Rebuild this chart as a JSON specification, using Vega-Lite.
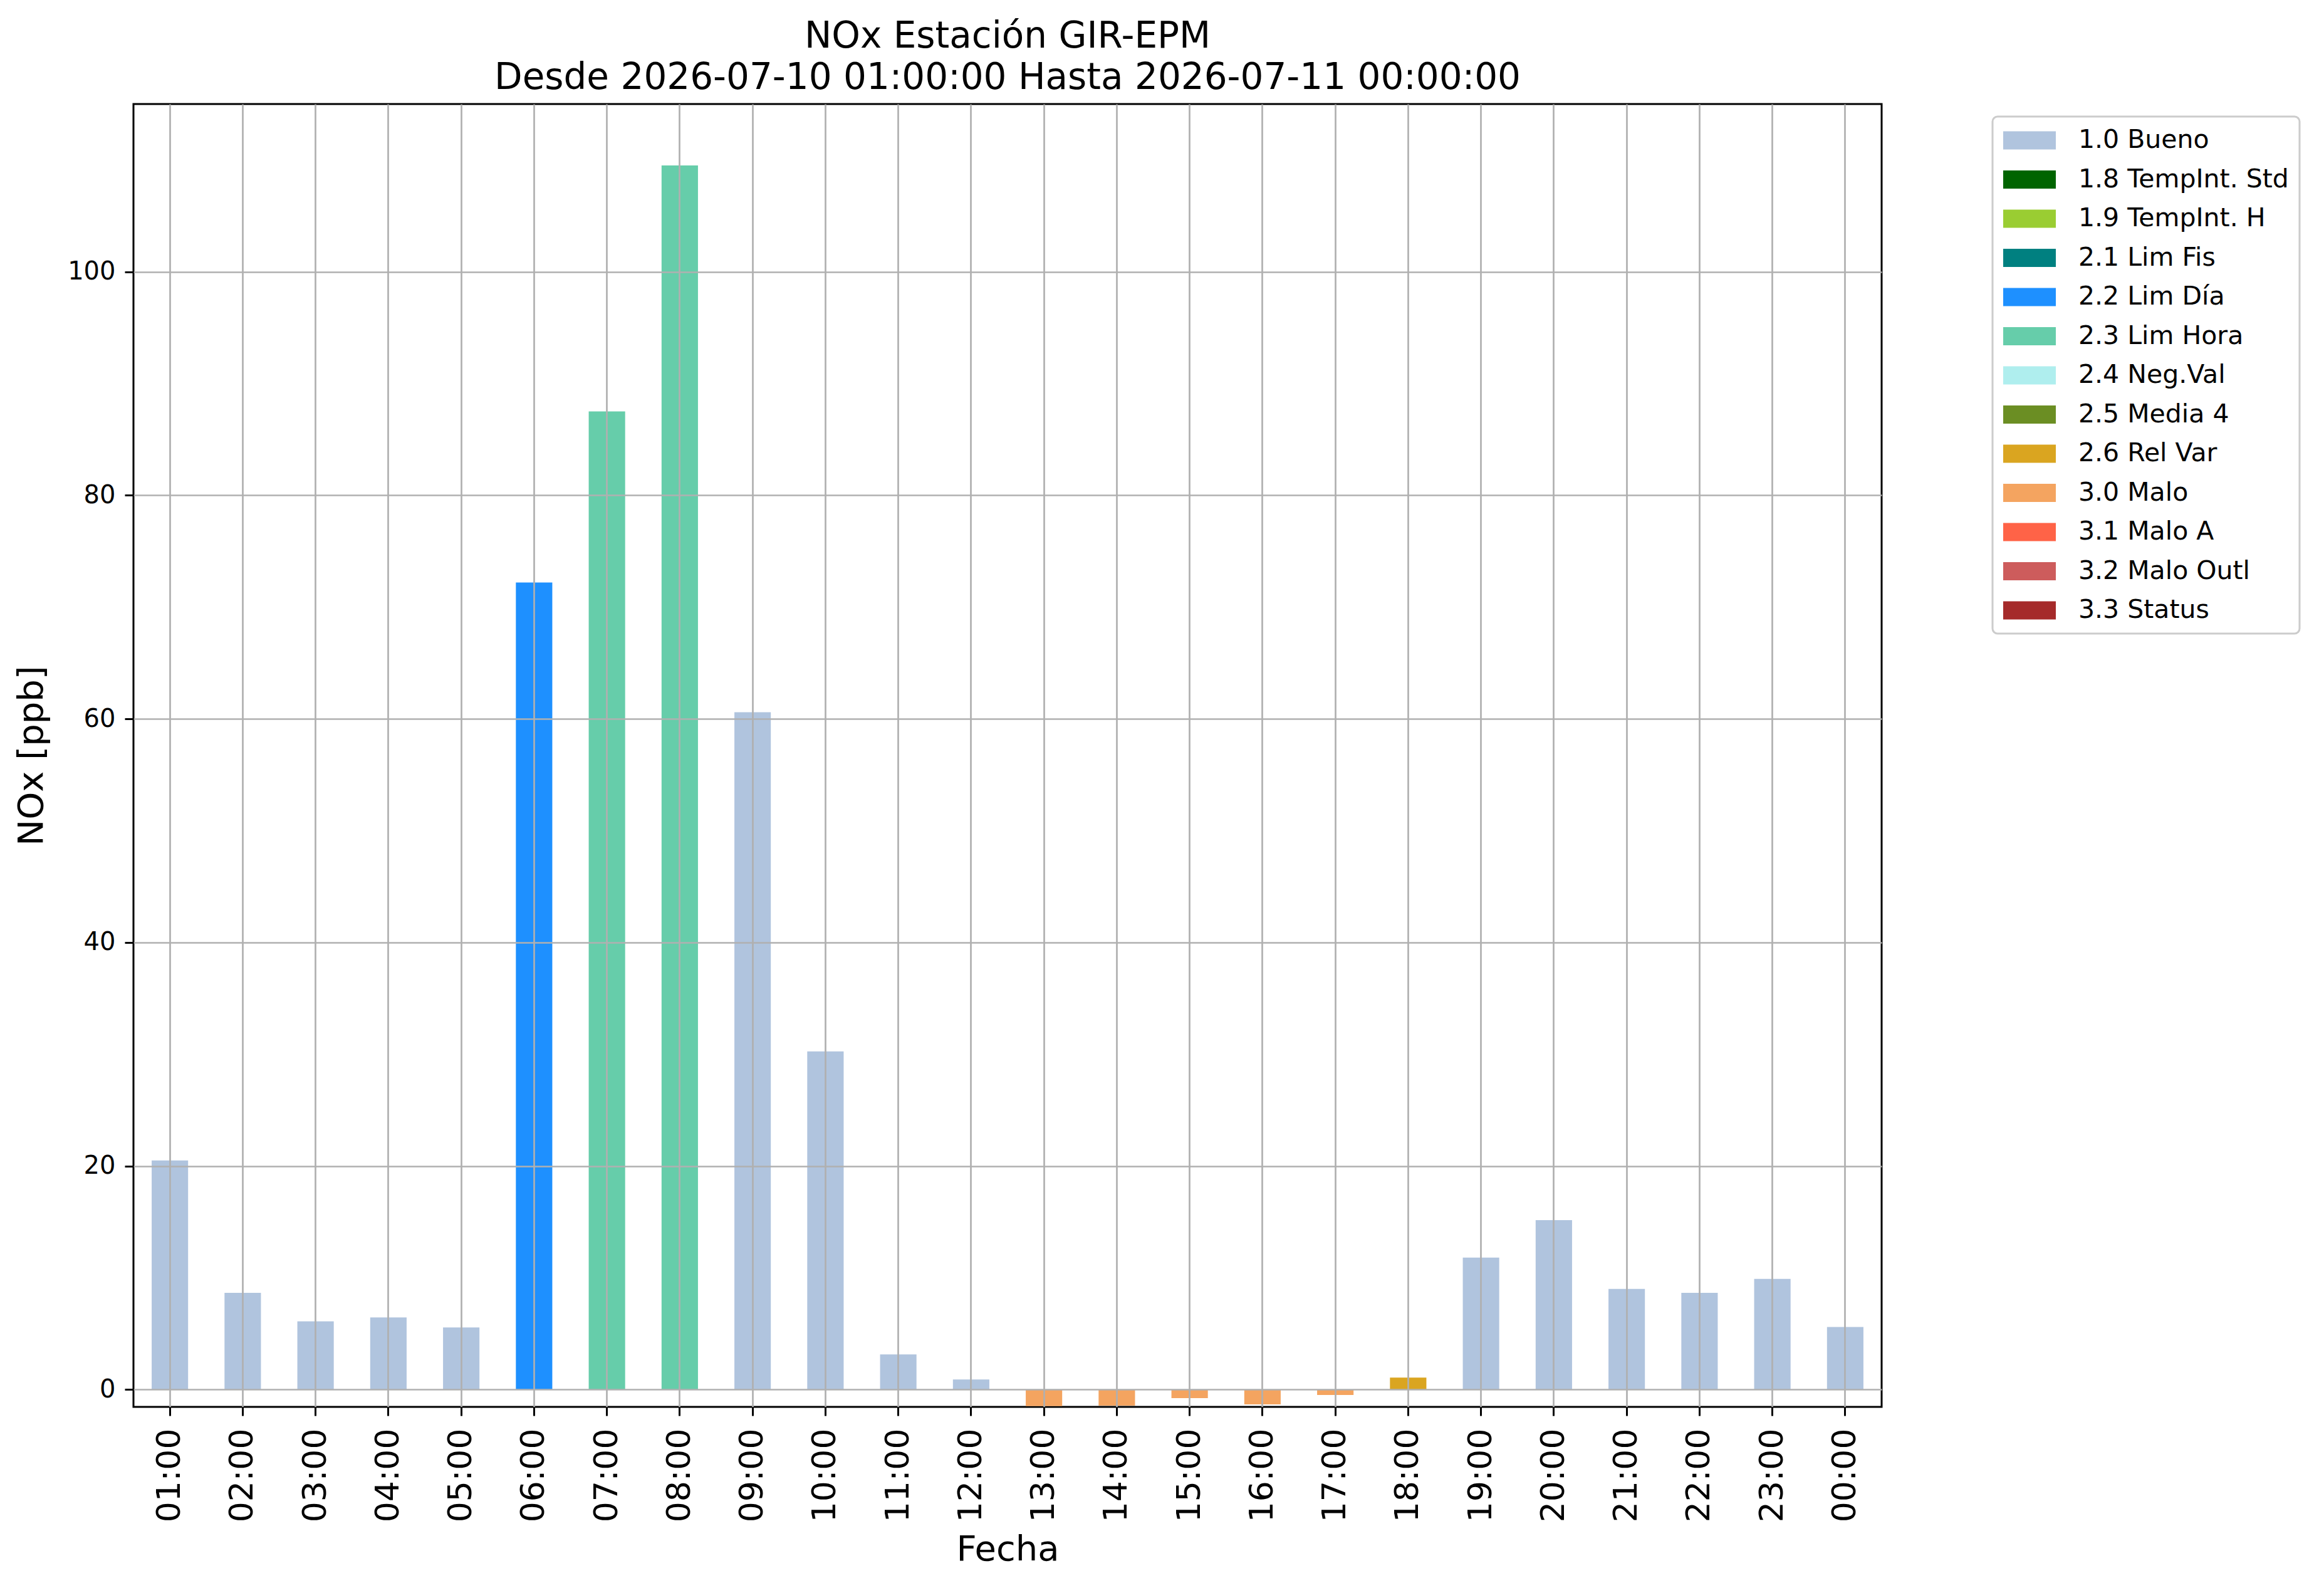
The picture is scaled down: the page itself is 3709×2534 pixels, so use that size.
{
  "$schema": "https://vega.github.io/schema/vega-lite/v6.json",
  "width": 2790,
  "height": 2079,
  "autosize": {"type": "none"},
  "padding": {"left": 213, "top": 166, "right": 706, "bottom": 289},
  "background": "white",
  "title": {
    "text": ["NOx Estación GIR-EPM", "Desde 2026-07-10 01:00:00 Hasta 2026-07-11 00:00:00"],
    "fontSize": 58,
    "lineHeight": 66,
    "font": "DejaVu Sans",
    "fontWeight": "normal",
    "color": "black",
    "offset": 12,
    "anchor": "middle"
  },
  "config": {
    "view": {"stroke": "black", "strokeWidth": 3},
    "font": "DejaVu Sans",
    "legend": {"strokeWidth": 3}
  },
  "data": {
    "values": [
      {"hora": "01:00", "nox": 20.5, "flag": "1.0 Bueno"},
      {"hora": "02:00", "nox": 8.65, "flag": "1.0 Bueno"},
      {"hora": "03:00", "nox": 6.1, "flag": "1.0 Bueno"},
      {"hora": "04:00", "nox": 6.45, "flag": "1.0 Bueno"},
      {"hora": "05:00", "nox": 5.55, "flag": "1.0 Bueno"},
      {"hora": "06:00", "nox": 72.2, "flag": "2.2 Lim Día"},
      {"hora": "07:00", "nox": 87.5, "flag": "2.3 Lim Hora"},
      {"hora": "08:00", "nox": 109.5, "flag": "2.3 Lim Hora"},
      {"hora": "09:00", "nox": 60.6, "flag": "1.0 Bueno"},
      {"hora": "10:00", "nox": 30.25, "flag": "1.0 Bueno"},
      {"hora": "11:00", "nox": 3.14, "flag": "1.0 Bueno"},
      {"hora": "12:00", "nox": 0.9, "flag": "1.0 Bueno"},
      {"hora": "13:00", "nox": -1.48, "flag": "3.0 Malo"},
      {"hora": "14:00", "nox": -1.44, "flag": "3.0 Malo"},
      {"hora": "15:00", "nox": -0.77, "flag": "3.0 Malo"},
      {"hora": "16:00", "nox": -1.33, "flag": "3.0 Malo"},
      {"hora": "17:00", "nox": -0.49, "flag": "3.0 Malo"},
      {"hora": "18:00", "nox": 1.07, "flag": "2.6 Rel Var"},
      {"hora": "19:00", "nox": 11.8, "flag": "1.0 Bueno"},
      {"hora": "20:00", "nox": 15.15, "flag": "1.0 Bueno"},
      {"hora": "21:00", "nox": 9.0, "flag": "1.0 Bueno"},
      {"hora": "22:00", "nox": 8.65, "flag": "1.0 Bueno"},
      {"hora": "23:00", "nox": 9.9, "flag": "1.0 Bueno"},
      {"hora": "00:00", "nox": 5.6, "flag": "1.0 Bueno"}
    ]
  },
  "mark": {"type": "bar"},
  "encoding": {
    "x": {
      "field": "hora",
      "type": "nominal",
      "sort": null,
      "scale": {"paddingInner": 0.5, "paddingOuter": 0.25},
      "axis": {
        "title": "Fecha",
        "titleFont": "DejaVu Sans",
        "titleFontSize": 56,
        "titleFontWeight": "normal",
        "titleColor": "black",
        "titlePadding": 17,
        "labelAngle": -90,
        "labelFont": "DejaVu Sans",
        "labelFontSize": 52,
        "labelColor": "black",
        "labelPadding": 20,
        "bandPosition": 0.5,
        "domain": false,
        "ticks": true,
        "tickSize": 14,
        "tickWidth": 3,
        "tickColor": "black",
        "grid": true,
        "gridColor": "#b0b0b0",
        "gridWidth": 2.7,
        "gridOpacity": 1,
        "zindex": 1
      }
    },
    "y": {
      "field": "nox",
      "type": "quantitative",
      "stack": "zero",
      "scale": {"domain": [-1.55, 115], "nice": false, "zero": false},
      "axis": {
        "title": "NOx [ppb]",
        "titleFont": "DejaVu Sans",
        "titleFontSize": 56,
        "titleFontWeight": "normal",
        "titleColor": "black",
        "titlePadding": 28,
        "values": [0, 20, 40, 60, 80, 100],
        "labelFont": "DejaVu Sans",
        "labelFontSize": 40,
        "labelColor": "black",
        "labelPadding": 15,
        "domain": false,
        "ticks": true,
        "tickSize": 14,
        "tickWidth": 3,
        "tickColor": "black",
        "grid": true,
        "gridColor": "#b0b0b0",
        "gridWidth": 2.7,
        "gridOpacity": 1,
        "zindex": 1
      }
    },
    "color": {
      "field": "flag",
      "type": "nominal",
      "scale": {
        "domain": ["1.0 Bueno", "1.8 TempInt. Std", "1.9 TempInt. H", "2.1 Lim Fis", "2.2 Lim Día", "2.3 Lim Hora", "2.4 Neg.Val", "2.5 Media 4", "2.6 Rel Var", "3.0 Malo", "3.1 Malo A", "3.2 Malo Outl", "3.3 Status"],
        "range": ["#B0C4DE", "#006400", "#9ACD32", "#008080", "#1E90FF", "#66CDAA", "#AFEEEE", "#6B8E23", "#DAA520", "#F4A460", "#FF6347", "#CD5C5C", "#A52A2A"]
      },
      "legend": {
        "orient": "none",
        "legendX": 2967,
        "legendY": 20,
        "title": null,
        "symbolType": "M-2,-0.69H2V0.69H-2Z",
        "symbolSize": 1764,
        "symbolOffset": 21,
        "symbolStrokeWidth": 0,
        "symbolOpacity": 1,
        "labelFont": "DejaVu Sans",
        "labelFontSize": 41,
        "labelColor": "black",
        "labelOffset": 57,
        "labelLimit": 0,
        "rowPadding": 21.5,
        "padding": 17,
        "strokeColor": "#cccccc",
        "fillColor": "white",
        "cornerRadius": 8
      }
    }
  }
}
